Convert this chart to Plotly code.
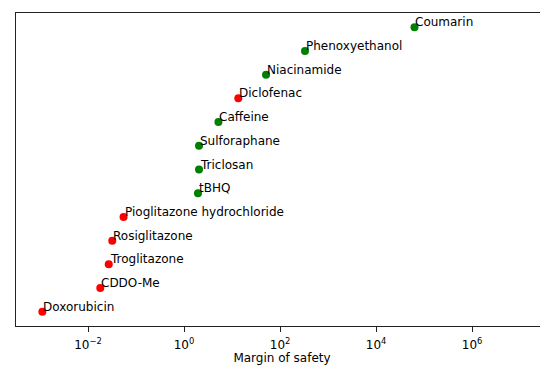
import numpy as np
import plotly.graph_objects as go

compounds = ["Doxorubicin", "CDDO-Me", "Troglitazone", "Rosiglitazone",
             "Pioglitazone hydrochloride", "tBHQ", "Triclosan", "Sulforaphane",
             "Caffeine", "Diclofenac", "Niacinamide", "Phenoxyethanol", "Coumarin"]
margin_of_safety = [0.00112, 0.018, 0.027, 0.032, 0.055, 1.95, 2.05, 2.05,
                    5.2, 13.5, 51, 330, 63000]
toxic = [True, True, True, True, True, False, False, False,
         False, True, False, False, False]

tick_values = [1e-2, 1e0, 1e2, 1e4, 1e6]
tick_labels = ["10<sup>\u22122</sup>", "10<sup>0</sup>", "10<sup>2</sup>",
               "10<sup>4</sup>", "10<sup>6</sup>"]

rank = list(range(len(compounds)))
colors = ["#ff0000" if t else "#008000" for t in toxic]

fig = go.Figure()
fig.add_trace(go.Scatter(
    x=margin_of_safety, y=rank, mode="markers",
    marker=dict(color=colors, size=8, line=dict(width=0)),
    hoverinfo="skip", showlegend=False,
))

for name, v, r in zip(compounds, margin_of_safety, rank):
    fig.add_annotation(
        x=np.log10(v), y=r, xref="x", yref="y", text=name,
        showarrow=False, xanchor="left", yanchor="bottom",
        xshift=-1, yshift=-4,
        font=dict(family="DejaVu Sans", size=12, color="black"),
    )

fig.update_layout(
    width=540, height=357,
    margin=dict(l=8, r=0, t=5, b=39, autoexpand=False),
    paper_bgcolor="white", plot_bgcolor="white",
    font=dict(family="DejaVu Sans", size=12, color="black"),
    xaxis=dict(
        type="log", range=[-3.5, 7.58], automargin=False,
        tickmode="array", tickvals=tick_values, ticktext=tick_labels,
        showgrid=False, zeroline=False, showline=True, linecolor="#222222",
        linewidth=1, mirror=True, ticks="outside", ticklen=5, tickcolor="#222222",
        ticklabelstandoff=3,
        title=dict(text="Margin of safety", standoff=9,
                   font=dict(family="DejaVu Sans", size=12)),
        tickfont=dict(family="DejaVu Sans", size=12),
    ),
    yaxis=dict(
        range=[-0.6, 12.6], showgrid=False, zeroline=False, automargin=False,
        showticklabels=False, ticks="", showline=True, linecolor="#222222",
        linewidth=1,
    ),
)

fig.write_html("out.html")
